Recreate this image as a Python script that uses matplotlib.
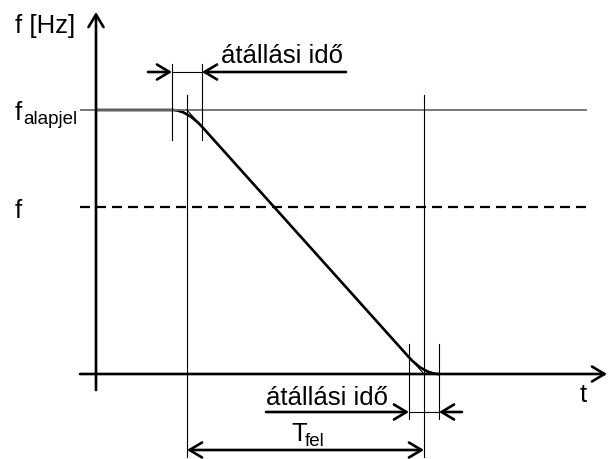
import matplotlib
matplotlib.use('Agg')
import matplotlib.pyplot as plt
from matplotlib.path import Path
from matplotlib.patches import PathPatch

# ---- schematic values (time / frequency in drawing units, origin at axes crossing)
f_alapjel = 264          # set-point frequency level
f_ref = 167              # intermediate frequency level (dashed)
t_ramp = [91, 328]       # ideal ramp start / end (T_fel)
t_trans = 15             # half of "átállási idő" (transition time)
t_axis = [-16, 511]      # t axis extent
f_axis = [-16, 362]      # f axis extent
t_level_end = 491        # end of the horizontal reference lines

labels = {'fHz': 'f [Hz]', 'f': 'f', 'sub_alap': 'alapjel', 't': 't',
          'trans': 'átállási idő', 'T': 'T', 'sub_fel': 'fel'}

FONT = 'Liberation Sans'
FS = 18.5
FSS = 13.5

fig = plt.figure(figsize=(6.12, 4.6), dpi=100)
ax = fig.add_axes([0, 0, 1, 1])
ax.set_xlim(-96, 516)
ax.set_ylim(-85, 375)
ax.axis('off')

THICK = 1.9
THIN = 0.8

def arrow(x0, y0, x1, y1, lw=THICK, style='->', ms=18):
    ax.annotate('', xy=(x1, y1), xytext=(x0, y0),
                arrowprops=dict(arrowstyle=f'{style},head_length=0.5,head_width=0.3',
                                lw=lw, color='black', shrinkA=0, shrinkB=0,
                                mutation_scale=ms))

# axes
arrow(0, f_axis[0], 0, f_axis[1])
arrow(t_axis[0], 0, t_axis[1], 0)

# reference levels
ax.plot([t_axis[0], t_level_end], [f_alapjel, f_alapjel], color='#6e6e6e', lw=1.3,
        solid_capstyle='butt')
ax.plot([t_axis[0], t_level_end], [f_ref, f_ref], color='black', lw=1.6,
        linestyle=(0, (4.5, 2.7)))

# ideal ramp (thin)
slope = f_alapjel / (t_ramp[1] - t_ramp[0])
ax.plot(t_ramp, [f_alapjel, 0], color='black', lw=THIN)

# real curve (thick) with rounded transitions
ta = t_ramp[0] - t_trans
tb = t_ramp[0] + t_trans
tc = t_ramp[1] - t_trans
td = t_ramp[1] + t_trans
fb = f_alapjel - t_trans * slope
fc = t_trans * slope
verts = [(0, f_alapjel), (ta, f_alapjel),
         (t_ramp[0], f_alapjel), (tb, fb),
         (tc, fc),
         (t_ramp[1], 0), (td, 0)]
codes = [Path.MOVETO, Path.LINETO, Path.CURVE3, Path.CURVE3, Path.LINETO,
         Path.CURVE3, Path.CURVE3]
ax.add_patch(PathPatch(Path(verts, codes), fill=False, lw=THICK, ec='black',
                       capstyle='butt', joinstyle='round'))

# vertical guide lines
for x in (ta, tb):
    ax.plot([x, x], [310, 234], color='black', lw=THIN)
for x in t_ramp:
    ax.plot([x, x], [279, -83], color='black', lw=THIN)
for x in (tc, td):
    ax.plot([x, x], [30, -45], color='black', lw=THIN)

# top dimension: transition time
ytop = 302
arrow(52, ytop, ta, ytop)
arrow(250, ytop, tb, ytop)
ax.plot([ta, tb], [ytop, ytop], color='black', lw=THIN)
ax.text(125, 312, labels['trans'], fontsize=FS, family=FONT, va='baseline', ha='left')

# bottom dimension: transition time
ybot = -38
arrow(170, ybot, tc, ybot)
arrow(366, ybot, td, ybot)
ax.plot([tc, td], [ybot, ybot], color='black', lw=THIN)
ax.text(170, -30, labels['trans'], fontsize=FS, family=FONT, va='baseline', ha='left')

# T_fel
yT = -76
arrow(t_ramp[0], yT, t_ramp[1], yT, style='<->')
ax.text(195, -66, labels['T'], fontsize=FS, family=FONT, va='baseline', ha='left')
ax.text(209, -71, labels['sub_fel'], fontsize=FSS, family=FONT, va='baseline', ha='left')

# axis labels
ax.text(-81, 342, labels['fHz'], fontsize=FS, family=FONT, va='baseline', ha='left')
ax.text(-81, 255, labels['f'], fontsize=FS, family=FONT, va='baseline', ha='left')
ax.text(-73, 251, labels['sub_alap'], fontsize=FSS, family=FONT, va='baseline', ha='left')
ax.text(-81, 157, labels['f'], fontsize=FS, family=FONT, va='baseline', ha='left')
ax.text(484, -27, labels['t'], fontsize=FS, family=FONT, va='baseline', ha='left')

fig.savefig('out.png', dpi=100)
